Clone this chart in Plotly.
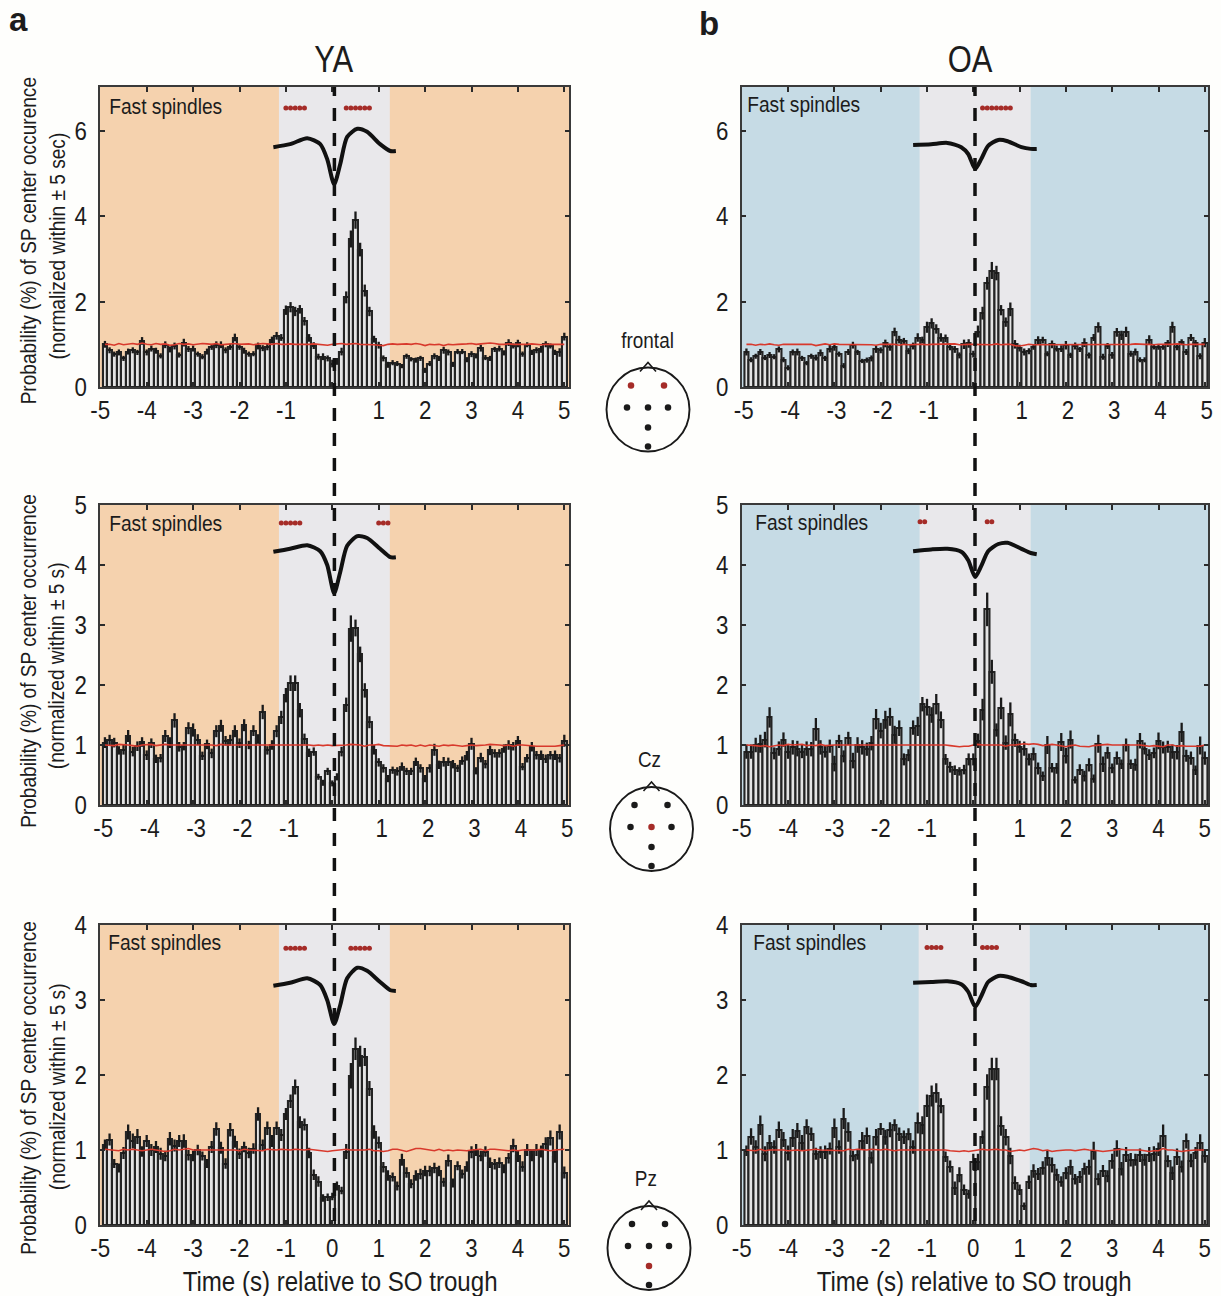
import plotly.graph_objects as go

W, H = 1221, 1296
FONT = "Liberation Sans, Arial, sans-serif"

bin_times = [k / 10 for k in range(-49, 51)]

ya_frontal = [
 1.00,.86,.77,.81,.67,.83,.86,.81,1.08,.81,
 .90,.85,.73,.99,.88,.96,.75,1.04,.89,.90,
 .77,.71,.83,.94,.99,.99,.86,.94,1.16,.94,
 .85,.77,.78,.96,.91,.94,1.10,1.20,1.16,1.80,
 1.87,1.77,1.82,1.54,1.15,.97,.71,.71,.67,.55,
 .60,.83,2.10,3.47,3.91,3.22,2.26,1.77,1.12,.98,
 .67,.52,.57,.55,.49,.72,.65,.63,.67,.39,
 .55,.72,.67,.86,.81,.53,.83,.83,.64,.77,
 .73,.91,.69,.67,.88,.90,.80,1.04,.96,1.02,
 .77,.99,.81,.86,.88,1.00,.96,.81,.81,1.18]
ya_cz = [
 1.04,1.08,1.04,.91,.92,1.15,.89,.98,1.05,.83,
 1.03,.77,.78,1.15,1.04,1.41,.97,.98,1.28,1.25,
 1.09,.82,1.01,.86,1.23,1.32,1.07,1.08,1.23,1.03,
 1.33,1.0,1.24,1.1,1.55,.91,1.0,1.23,1.46,1.83,
 2.03,2.03,1.58,1.1,.87,.89,.47,.37,.56,.36,
 .47,.89,1.67,2.94,2.95,2.51,1.91,1.38,.92,.71,
 .61,.44,.58,.56,.64,.56,.56,.72,.61,.44,
 .61,.92,.67,.72,.72,.68,.61,.74,.82,1.02,
 .57,.79,.68,.91,.86,.86,.94,1.0,.98,1.07,
 .64,.78,.97,.83,.83,.77,.83,.83,.78,1.07]
ya_pz = [
 1.07,1.14,.82,.76,.96,1.24,1.12,1.18,.98,1.12,
 1.0,1.04,.95,.92,1.15,1.06,1.12,1.12,.93,.92,
 1.0,.92,.82,1.04,1.28,1.03,.82,1.27,1.11,.95,
 1.04,.96,1.02,1.48,1.07,1.29,1.12,1.29,1.2,1.48,
 1.65,1.84,1.37,1.34,.96,.67,.58,.36,.37,.38,
 .52,.46,.98,1.99,2.35,2.25,2.24,1.82,1.24,1.10,
 .77,.66,.64,.52,.87,.70,.55,.66,.68,.72,
 .72,.76,.72,.57,.86,.56,.79,.68,.78,.97,
 1.0,.92,.98,.83,.81,.83,.75,.89,1.06,.92,
 .78,1.0,.93,1.0,.98,1.08,1.16,.91,1.24,.70]
oa_frontal = [
 .82,.64,.72,.82,.69,.75,.71,.88,.64,.45,
 .81,.82,.67,.56,.72,.69,.80,.67,.90,.93,
 .77,.50,.82,.98,.81,.61,.63,.67,.88,.86,
 1.02,.93,1.29,1.11,1.07,.84,.96,1.16,1.10,1.40,
 1.49,1.36,1.16,1.14,.94,.88,.74,1.0,1.02,.77,
 1.30,1.73,2.43,2.73,2.67,1.80,1.52,1.82,1.0,.91,
 .82,.84,.94,1.10,1.10,.78,1.0,.90,.90,.98,
 .74,.96,.88,1.04,.74,1.16,1.40,.71,.96,.74,
 1.28,1.21,1.29,.78,.82,.64,.64,1.11,.94,.94,
 .94,1.02,1.40,.94,1.05,.82,1.16,1.02,.72,1.04]
oa_cz = [
 .89,.89,1.0,1.02,1.09,1.46,.86,.94,1.09,.89,
 .96,.94,.89,.94,.93,1.26,.96,.89,.98,.69,
 1.06,.81,1.11,.74,1.0,.96,.93,1.03,1.43,1.24,
 1.42,1.47,1.17,1.28,.76,.83,1.29,1.31,1.68,1.63,
 1.5,1.68,1.42,.76,.63,.58,.56,.59,.76,.76,
 1.07,1.59,3.26,2.22,1.25,1.61,1.04,1.51,1.08,.97,
 .94,.76,.85,.61,.48,1.0,.62,.61,1.05,.82,
 1.09,.42,.59,.48,.67,.44,1.02,.68,.87,.61,
 .78,.68,1.0,.68,.67,1.07,.94,.84,.87,1.07,
 .96,.97,.89,.88,1.21,.82,.78,.58,.99,.78]
oa_pz = [
 .99,1.18,1.04,1.33,.95,1.10,1.04,1.27,1.14,.96,
 1.16,1.26,1.10,1.31,1.21,.95,.97,.97,1.02,1.29,
 1.04,1.42,1.24,.92,.94,1.12,1.19,.90,1.17,1.28,
 1.17,1.27,1.33,1.21,1.17,1.21,1.04,1.36,1.33,1.59,
 1.72,1.76,1.59,.91,.78,.49,.67,.47,.41,.84,
 .84,1.17,1.84,2.08,2.08,1.32,1.17,.92,.56,.47,
 .25,.57,.72,.68,.76,.89,.80,.67,.58,.69,
 .77,.61,.64,.75,.77,.99,.61,.72,.65,.85,
 1.02,.75,.94,.87,.87,.93,.87,.94,.95,1.01,
 1.19,.85,.69,.91,.78,1.12,.86,.96,1.10,.92]

ya_frontal_err = [
 .08,.07,.06,.07,.06,.07,.07,.06,.09,.07,
 .07,.07,.06,.08,.07,.08,.06,.09,.07,.07,
 .06,.06,.07,.07,.08,.08,.07,.07,.09,.07,
 .07,.06,.06,.08,.07,.08,.08,.09,.08,.11,
 .12,.11,.10,.10,.09,.08,.07,.08,.07,.09,
 .08,.09,.14,.20,.20,.16,.14,.11,.08,.08,
 .07,.07,.06,.06,.05,.06,.05,.06,.06,.06,
 .06,.07,.06,.08,.07,.06,.06,.06,.06,.07,
 .06,.08,.06,.06,.06,.07,.06,.08,.06,.09,
 .06,.06,.06,.07,.08,.07,.06,.06,.10,.09]
ya_cz_err = [
 .09,.09,.08,.07,.08,.10,.08,.08,.08,.08,
 .08,.07,.07,.10,.09,.12,.08,.07,.10,.11,
 .09,.07,.08,.08,.10,.10,.08,.09,.10,.08,
 .10,.07,.09,.08,.12,.07,.08,.10,.11,.12,
 .13,.13,.12,.09,.07,.07,.05,.05,.06,.05,
 .06,.08,.12,.22,.14,.13,.12,.10,.08,.07,
 .07,.06,.06,.07,.07,.06,.06,.07,.07,.06,
 .07,.10,.07,.08,.07,.07,.06,.07,.08,.10,
 .06,.08,.07,.08,.07,.07,.07,.08,.07,.08,
 .06,.07,.08,.07,.08,.07,.07,.08,.07,.10]
ya_pz_err = [
 .07,.08,.06,.06,.08,.10,.10,.10,.07,.08,
 .08,.08,.08,.07,.09,.08,.08,.09,.07,.07,
 .07,.06,.06,.08,.09,.08,.07,.09,.08,.07,
 .07,.07,.07,.09,.07,.09,.08,.09,.08,.08,
 .09,.10,.08,.08,.07,.07,.07,.05,.05,.05,
 .06,.05,.10,.17,.15,.14,.12,.10,.09,.08,
 .07,.07,.06,.06,.08,.07,.06,.07,.07,.07,
 .07,.07,.07,.06,.08,.06,.06,.06,.07,.08,
 .08,.07,.07,.07,.07,.07,.06,.07,.09,.08,
 .07,.08,.08,.08,.08,.09,.10,.08,.10,.08]
oa_frontal_err = [
 .08,.06,.06,.07,.06,.07,.06,.07,.06,.06,
 .07,.08,.06,.05,.06,.07,.08,.06,.09,.08,
 .06,.06,.07,.08,.06,.05,.06,.07,.08,.07,
 .09,.08,.10,.09,.08,.07,.08,.10,.08,.13,
 .12,.11,.10,.09,.08,.08,.07,.11,.10,.08,
 .14,.15,.15,.20,.17,.12,.11,.16,.10,.08,
 .08,.07,.07,.09,.08,.06,.09,.07,.08,.10,
 .06,.08,.06,.10,.07,.08,.12,.07,.07,.08,
 .10,.11,.12,.07,.08,.06,.06,.10,.06,.07,
 .07,.08,.13,.08,.07,.07,.08,.08,.07,.11]
oa_cz_err = [
 .12,.12,.12,.15,.13,.17,.10,.12,.12,.12,
 .12,.13,.11,.12,.12,.19,.12,.10,.11,.13,
 .11,.10,.11,.13,.13,.12,.11,.12,.17,.13,
 .15,.15,.15,.13,.10,.10,.12,.16,.12,.14,
 .13,.17,.14,.09,.09,.08,.07,.08,.10,.10,
 .12,.18,.28,.20,.11,.18,.12,.20,.11,.10,
 .12,.10,.11,.10,.08,.15,.08,.09,.15,.13,
 .15,.06,.09,.09,.11,.07,.15,.13,.10,.08,
 .11,.08,.11,.08,.10,.13,.10,.09,.09,.14,
 .10,.10,.12,.12,.16,.10,.11,.08,.15,.11]
oa_pz_err = [
 .07,.11,.09,.13,.10,.10,.09,.11,.10,.10,
 .12,.10,.10,.10,.09,.08,.08,.09,.08,.13,
 .09,.14,.13,.07,.07,.12,.11,.08,.11,.08,
 .10,.10,.08,.09,.09,.08,.09,.14,.12,.15,
 .14,.13,.10,.07,.08,.09,.10,.07,.06,.11,
 .11,.09,.17,.15,.15,.13,.11,.11,.09,.07,
 .05,.09,.09,.08,.09,.10,.10,.08,.07,.08,
 .10,.07,.08,.08,.10,.12,.08,.08,.08,.10,
 .11,.09,.10,.09,.08,.09,.08,.10,.10,.09,
 .15,.08,.09,.11,.08,.10,.09,.08,.11,.09]

red_ya_frontal = [
 1.0,1.0,.98,1.02,.99,1.0,1.02,1.0,1.03,1.0,
 .99,1.02,1.0,1.01,.98,.99,1.02,1.0,1.01,.99,
 1.0,1.02,1.01,1.0,1.02,.99,1.0,1.01,1.02,1.0,
 1.0,1.01,.99,1.0,1.02,1.01,1.0,1.02,1.0,1.0,
 1.01,1.0,1.0,.99,1.0,1.01,1.0,.99,.98,1.0,
 1.01,1.02,1.0,1.01,1.02,1.0,1.0,1.0,.99,.98,
 .97,1.0,1.01,1.0,1.01,1.01,1.0,1.02,1.0,.97,
 1.0,.99,1.0,.97,1.0,.99,1.0,1.0,1.01,1.02,
 1.0,1.01,1.02,1.03,1.02,1.0,1.0,1.01,1.0,1.0,
 .99,1.0,1.01,1.0,.99,1.0,1.0,.99,1.0,1.0]
red_ya_cz = [
 1.0,1.0,.99,1.01,1.01,1.0,.99,.98,1.0,1.0,
 1.01,.99,1.0,1.01,1.0,1.0,1.0,1.01,1.0,1.0,
 1.0,1.0,1.01,1.0,.99,1.01,1.0,1.0,1.01,1.0,
 1.0,1.01,1.0,1.0,1.01,1.0,1.01,1.0,1.01,1.0,
 1.0,1.01,1.0,1.0,1.0,.99,1.0,.99,1.0,.99,
 .99,1.0,1.0,1.01,1.01,1.0,.98,1.0,1.0,1.01,
 .99,.99,.98,.98,1.0,.99,1.0,.98,1.0,.98,
 1.0,.99,.98,1.0,.99,1.0,.99,.98,.99,1.0,
 .99,.99,1.0,1.01,1.01,1.0,.99,1.0,.98,1.0,
 1.0,.99,.99,.98,.98,.98,.97,.98,.99,1.0]
red_ya_pz = [
 1.01,1.0,1.0,.99,1.01,1.0,1.01,1.0,.99,1.0,
 1.01,1.0,.99,.98,.99,1.01,1.0,1.01,1.02,1.0,
 1.0,1.0,1.01,1.0,1.01,1.0,1.0,1.01,1.0,.99,
 1.01,1.0,1.0,1.0,.99,1.01,1.0,1.0,1.01,1.0,
 1.0,1.01,1.0,1.0,1.01,1.0,.99,.99,.98,.99,
 1.0,1.0,1.01,1.0,1.0,.99,1.0,1.01,.99,.99,
 .98,.99,1.01,1.01,1.0,.98,1.0,1.02,1.02,1.01,
 1.0,.99,1.01,.99,1.0,.99,1.0,.99,.99,1.0,
 1.01,1.01,.99,1.01,1.01,1.0,.99,.99,1.0,.99,
 1.0,1.0,.99,1.0,1.01,1.0,.99,1.0,1.0,1.01]
red_oa_frontal = [
 1.0,1.0,.98,1.0,.99,1.01,.99,.98,1.0,1.0,
 1.0,1.0,.99,.99,1.0,.97,.99,1.01,.99,1.01,
 1.0,1.0,.99,.99,1.0,1.0,1.0,.99,.98,1.0,
 1.0,1.0,1.0,.98,1.0,.99,1.0,1.0,1.0,.99,
 1.0,1.0,1.0,1.0,1.0,1.01,.99,1.0,1.0,1.0,
 1.0,.99,1.0,.99,1.01,.99,1.0,1.0,.97,.96,
 .98,1.0,.99,.99,1.0,1.0,.99,1.0,1.0,.99,
 1.0,.99,1.0,1.0,.99,1.0,.99,1.0,.99,.99,
 1.0,1.0,1.0,1.0,1.01,1.0,1.0,1.0,.99,1.0,
 1.0,.99,1.0,1.01,1.0,.99,1.0,1.0,.99,1.0]
red_oa_cz = [
 1.0,1.0,.99,.98,.99,.97,.98,1.0,.99,1.01,
 1.0,1.0,1.01,.99,1.0,.99,1.01,.99,1.0,1.0,
 1.0,1.0,1.0,1.01,1.0,1.0,1.0,1.0,1.01,1.0,
 1.0,1.0,1.0,1.0,1.0,1.0,1.0,1.0,1.0,1.01,
 1.0,1.0,1.01,1.0,.99,.98,.97,.98,.98,1.0,
 1.01,1.0,1.0,1.01,1.0,1.0,.98,1.0,1.0,1.01,
 1.02,1.01,1.02,1.01,.99,1.0,1.01,1.0,.98,.97,
 .99,1.0,.98,.98,.97,.99,1.0,1.0,1.01,1.0,
 1.0,1.01,1.01,1.0,1.0,1.0,.99,.98,.99,.98,
 .97,1.0,1.0,.98,.99,.98,.98,.97,.98,1.0]
red_oa_pz = [
 1.0,1.0,.99,1.01,.99,1.0,1.0,1.01,1.0,.99,
 1.0,1.0,.99,1.0,1.0,1.01,1.0,1.0,.99,1.0,
 1.0,.99,1.01,1.0,1.01,1.0,1.0,1.01,1.0,1.0,
 1.01,1.0,.99,1.0,1.0,1.01,1.0,1.0,1.01,1.0,
 1.01,1.01,1.01,1.0,.99,.98,.98,.99,.98,.99,
 1.0,1.01,1.0,1.01,1.01,1.0,1.0,.98,.99,1.0,
 .99,1.0,1.02,1.01,.99,1.0,.98,.99,1.0,1.0,
 1.0,.99,1.0,1.01,1.0,1.0,.99,.98,.99,1.0,
 1.01,1.01,1.0,1.0,1.01,1.0,.99,.98,.99,.99,
 1.02,1.0,1.0,.99,.98,.99,1.0,1.0,1.0,1.0]

wave_t_ya = [-1.27,-0.91,-0.54,-0.26,-0.11,0.04,0.17,0.32,0.54,0.75,1.03,1.25,1.37]
wave_t_oa = [-1.30,-0.91,-0.56,-0.26,-0.11,0.04,0.17,0.32,0.54,0.74,1.04,1.24,1.37]
wave_ya_frontal = [5.62,5.69,5.83,5.69,5.34,4.75,5.22,5.86,6.05,5.98,5.69,5.53,5.53]
wave_ya_cz = [4.22,4.27,4.33,4.23,4.0,3.53,3.88,4.32,4.48,4.45,4.27,4.13,4.13]
wave_ya_pz = [3.19,3.23,3.29,3.2,3.0,2.68,2.93,3.29,3.43,3.39,3.24,3.13,3.12]
wave_oa_frontal = [5.67,5.69,5.72,5.62,5.46,5.11,5.34,5.65,5.79,5.76,5.62,5.58,5.58]
wave_oa_cz = [4.23,4.26,4.27,4.22,4.08,3.8,3.98,4.23,4.35,4.37,4.27,4.2,4.18]
wave_oa_pz = [3.23,3.24,3.25,3.21,3.11,2.91,3.05,3.24,3.32,3.31,3.25,3.2,3.2]

sig_ya_frontal = [-1.0,-.9,-.8,-.7,-.6,.3,.4,.5,.6,.7,.8]
sig_ya_cz = [-1.1,-1.0,-.9,-.8,-.7,1.0,1.1,1.2]
sig_ya_pz = [-1.0,-.9,-.8,-.7,-.6,.4,.5,.6,.7,.8]
sig_oa_frontal = [.2,.3,.4,.5,.6,.7,.8]
sig_oa_cz = [-1.15,-1.05,.3,.4]
sig_oa_pz = [-1.0,-.9,-.8,-.7,.2,.3,.4,.5]

panels = [
 dict(v=ya_frontal, e=ya_frontal_err, r=red_ya_frontal, w=wave_ya_frontal, wt=wave_t_ya, s=sig_ya_frontal, sy=6.54,
      box=(100,569.3,87,387), zero=332.3, sc=46.4, ymax=7.03, yt=[0,2,4,6], hide0=True, band=(-1.15,1.24), col="#F5D2AE",
      shift=0, fx=165.5, fy=107),
 dict(v=ya_cz, e=ya_cz_err, r=red_ya_cz, w=wave_ya_cz, wt=wave_t_ya, s=sig_ya_cz, sy=4.7,
      box=(100,569.3,505,805), zero=332.3, sc=46.4, ymax=5.0, yt=[0,1,2,3,4,5], hide0=True, band=(-1.15,1.24), col="#F5D2AE",
      shift=3, fx=165.5, fy=523),
 dict(v=ya_pz, e=ya_pz_err, r=red_ya_pz, w=wave_ya_pz, wt=wave_t_ya, s=sig_ya_pz, sy=3.69,
      box=(100,569.3,925,1225), zero=332.3, sc=46.4, ymax=4.0, yt=[0,1,2,3,4], hide0=False, band=(-1.15,1.24), col="#F5D2AE",
      shift=0, fx=164.5, fy=942),
 dict(v=oa_frontal, e=oa_frontal_err, r=red_oa_frontal, w=wave_oa_frontal, wt=wave_t_oa, s=sig_oa_frontal, sy=6.54,
      box=(741.5,1208.3,87,387), zero=973.3, sc=46.3, ymax=7.03, yt=[0,2,4,6], hide0=True, band=(-1.16,1.24), col="#C6DBE5",
      shift=2, fx=803, fy=105),
 dict(v=oa_cz, e=oa_cz_err, r=red_oa_cz, w=wave_oa_cz, wt=wave_t_oa, s=sig_oa_cz, sy=4.72,
      box=(741.5,1208.3,505,805), zero=973.3, sc=46.3, ymax=5.0, yt=[0,1,2,3,4,5], hide0=True, band=(-1.16,1.24), col="#C6DBE5",
      shift=0, fx=811, fy=522),
 dict(v=oa_pz, e=oa_pz_err, r=red_oa_pz, w=wave_oa_pz, wt=wave_t_oa, s=sig_oa_pz, sy=3.7,
      box=(741.5,1208.3,925,1225), zero=973.3, sc=46.3, ymax=4.0, yt=[0,1,2,3,4], hide0=False, band=(-1.18,1.22), col="#C6DBE5",
      shift=0, fx=809, fy=942),
]

electrode_x = [-17, 16, -21, 0, 20, 0, 0]
electrode_y = [24, 24, 2, 2, 2, -18, -37]
heads = [
 dict(cx=648, cy=409.5, red=[0, 1], label="frontal", lx=648, ly=340),
 dict(cx=651.5, cy=829, red=[3], label="Cz", lx=649, ly=759),
 dict(cx=649, cy=1248, red=[5], label="Pz", lx=646, ly=1178),
]

def px(x): return x / W
def py(y): return 1 - y / H
def ids(i):
    s = "" if i == 1 else str(i)
    return f"x{s}", f"y{s}", f"xaxis{s}", f"yaxis{s}"

fig = go.Figure()
shapes, annos = [], []
layout = {}
INK = "#2b2b2b"
RED = "#D8392C"
DOT = "#A52C28"

def text(s, x, y, size, angle=0, bold=False):
    annos.append(dict(text=f"<b>{s}</b>" if bold else s, x=px(x), y=py(y), xref="paper", yref="paper",
                      showarrow=False, xanchor="center", yanchor="middle", textangle=angle,
                      font=dict(family=FONT, size=size, color="#1c1c1c")))

xtickvals = [-5,-4,-3,-2,-1,0,1,2,3,4,5]
for i, p in enumerate(panels, 1):
    xa, ya, xk, yk = ids(i)
    l, r, t, b = p["box"]
    xr = [(l - p["zero"]) / p["sc"], (r - p["zero"]) / p["sc"]]
    layout[xk] = dict(domain=[px(l), px(r)], range=xr, anchor=ya, tickmode="array", tickvals=xtickvals,
        ticktext=[("" if (k == 0 and p["hide0"]) else str(k)) for k in xtickvals],
        ticks="inside", ticklen=5, tickwidth=1.5, tickcolor=INK, showline=True, mirror="ticks", linecolor="#3a3a3a", linewidth=1.6,
        showgrid=False, zeroline=False, ticklabelstandoff=-1, ticklabelshift=p["shift"],
        tickfont=dict(family=FONT, size=26, color="#1c1c1c"))
    layout[yk] = dict(domain=[py(b), py(t)], range=[0, p["ymax"]], anchor=xa, tickmode="array", tickvals=p["yt"],
        ticktext=[str(k) for k in p["yt"]],
        ticks="inside", ticklen=5, tickwidth=1.5, tickcolor=INK, showline=True, mirror="ticks", linecolor="#3a3a3a", linewidth=1.6,
        showgrid=False, zeroline=False, ticklabelstandoff=6,
        tickfont=dict(family=FONT, size=26, color="#1c1c1c"))
    shapes.append(dict(type="rect", xref=xa, yref=f"{ya} domain", x0=xr[0], x1=xr[1], y0=0, y1=1, fillcolor=p["col"], line_width=0, layer="below"))
    shapes.append(dict(type="rect", xref=xa, yref=f"{ya} domain", x0=p["band"][0], x1=p["band"][1], y0=0, y1=1, fillcolor="#E9E8EB", line_width=0, layer="below"))
    fig.add_trace(go.Bar(x=bin_times, y=p["v"], width=0.1, xaxis=xa, yaxis=ya, showlegend=False,
        marker=dict(color="#E4E4E4", line=dict(color="#242424", width=2.1)),
        error_y=dict(type="data", array=p["e"], visible=True, thickness=2.3, width=0, color="#1a1a1a")))
    fig.add_trace(go.Scatter(x=bin_times, y=p["r"], mode="lines", xaxis=xa, yaxis=ya, showlegend=False,
        line=dict(color=RED, width=1.6)))
    fig.add_trace(go.Scatter(x=p["wt"], y=p["w"], mode="lines", xaxis=xa, yaxis=ya, showlegend=False,
        cliponaxis=False, line=dict(color="#111111", width=4, shape="spline", smoothing=0.7)))
    fig.add_trace(go.Scatter(x=p["s"], y=[p["sy"]] * len(p["s"]), mode="markers", xaxis=xa, yaxis=ya, showlegend=False,
        marker=dict(color=DOT, size=5, line_width=0)))
    text("Fast spindles", p["fx"], p["fy"], 22.3)

n = len(panels)
for j, h in enumerate(heads):
    i = n + j + 1
    xa, ya, xk, yk = ids(i)
    layout[xk] = dict(domain=[px(h["cx"] - 50), px(h["cx"] + 50)], range=[-50, 50], anchor=ya, visible=False)
    layout[yk] = dict(domain=[py(h["cy"] + 47), py(h["cy"] - 50)], range=[-47, 50], anchor=xa, visible=False)
    shapes.append(dict(type="path", xref=xa, yref=ya, path="M -8,38 L 0,47 L 8,38", line=dict(color="#1a1a1a", width=1.6), fillcolor="#ffffff", layer="above"))
    shapes.append(dict(type="circle", xref=xa, yref=ya, x0=-41.5, x1=41.5, y0=-42, y1=42, line=dict(color="#1a1a1a", width=1.9), layer="above"))
    fig.add_trace(go.Scatter(x=electrode_x, y=electrode_y, mode="markers", xaxis=xa, yaxis=ya, showlegend=False,
        marker=dict(size=6.5, line_width=0, color=[DOT if k in h["red"] else "#1a1a1a" for k in range(len(electrode_x))])))
    text(h["label"], h["lx"], h["ly"], 22)

dash = "9px,12px," + ",".join(["13px,12px"] * 48)
for x in (334.4, 975):
    shapes.append(dict(type="line", xref="paper", yref="paper", x0=px(x), x1=px(x), y0=py(87), y1=py(1225),
                       line=dict(color="#111111", width=3.5, dash=dash), layer="above"))

text("YA", 333, 60, 36)
text("OA", 970, 60, 36)
text("a", 18, 20, 33, bold=True)
text("b", 709, 24, 33, bold=True)
text("Probability (%) of SP center occurence", 28, 241, 22.2, angle=-90)
text("(normalized within ± 5 sec)", 57, 246, 22.2, angle=-90)
text("Probability (%) of SP center occurrence", 28, 661, 22.2, angle=-90)
text("(normalized within ± 5 s)", 57, 666, 22.2, angle=-90)
text("Probability (%) of SP center occurrence", 28, 1088, 22.2, angle=-90)
text("(normalized within ± 5 s)", 57, 1087, 22.2, angle=-90)
text("Time (s) relative to SO trough", 340, 1281, 28)
text("Time (s) relative to SO trough", 974, 1281, 28)

fig.update_layout(width=W, height=H, margin=dict(l=0, r=0, t=0, b=0, autoexpand=False), autosize=False,
                  paper_bgcolor="#FEFEFC", plot_bgcolor="rgba(0,0,0,0)", barmode="overlay", bargap=0,
                  showlegend=False, shapes=shapes, annotations=annos, **layout)

# The reference's type is a condensed sans; no narrow face is installed, so real text is narrowed in place.
SQUEEZE = """
document.body.style.margin='0';document.body.style.background='#FEFEFC';
function narrow(){document.querySelectorAll('.main-svg text').forEach(function(t){
 if(t.hasAttribute('textLength')||t.innerHTML.indexOf('bold')>=0||!t.textContent)return;
 var w=t.getComputedTextLength();if(!w)return;
 t.setAttribute('lengthAdjust','spacingAndGlyphs');t.setAttribute('textLength',(w*0.86).toFixed(1));});}
narrow();setTimeout(narrow,50);setTimeout(narrow,300);setTimeout(narrow,1000);
"""
fig.write_html("out.html", config=dict(displayModeBar=False), post_script=SQUEEZE)
